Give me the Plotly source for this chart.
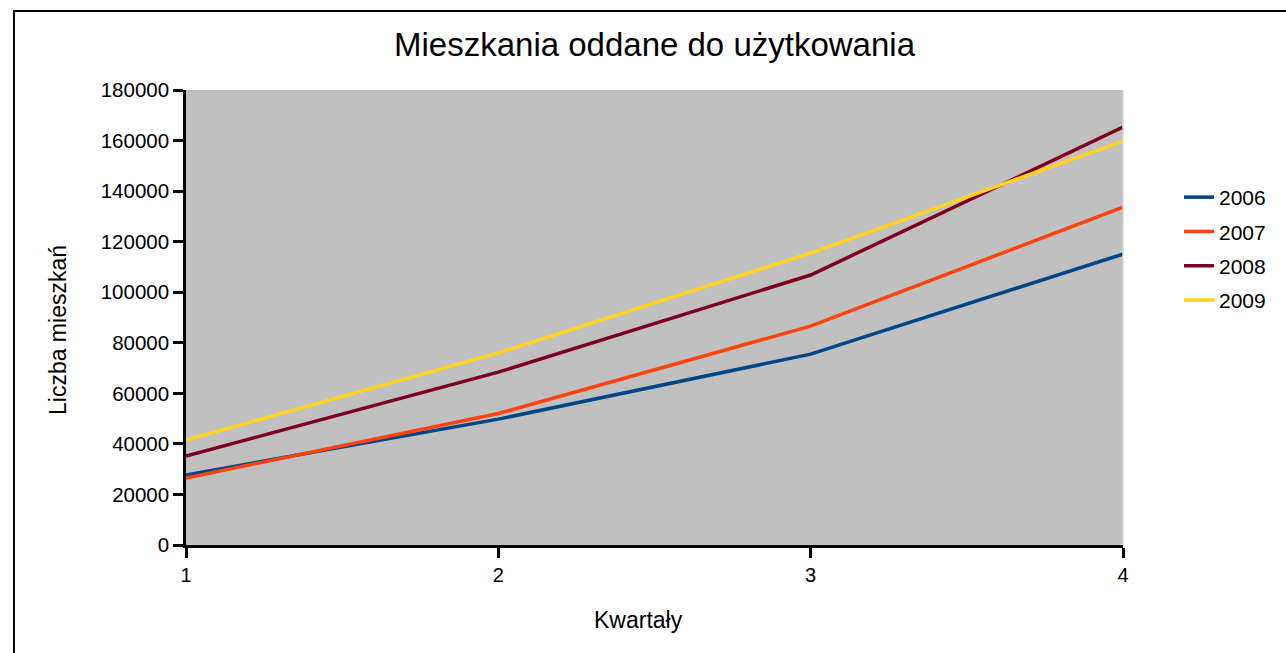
import plotly.graph_objects as go

quarters = [1, 2, 3, 4]
years = ["2006", "2007", "2008", "2009"]
v2006 = [27700, 49800, 75500, 115100]
v2007 = [26500, 52000, 86600, 133700]
v2008 = [35200, 68400, 106800, 165300]
v2009 = [41500, 76000, 115500, 159800]
colors = ["#004586", "#ff420e", "#7e0021", "#ffd320"]
y_ticks = [0, 20000, 40000, 60000, 80000, 100000, 120000, 140000, 160000, 180000]

fig = go.Figure()
for name, vals, col in zip(years, [v2006, v2007, v2008, v2009], colors):
    fig.add_trace(go.Scatter(x=quarters, y=vals, mode="lines", name=name,
                             legendgroup=name,
                             line=dict(color=col, width=3.5)))

W, H = 1286, 653
L, R, T, B = 186, 163, 90, 108
pw, ph = W - L - R, H - T - B


def px(x):
    return (x - L) / pw


def py(y):
    return (T + ph - y) / ph


fig.update_layout(
    width=W, height=H,
    margin=dict(l=L, r=R, t=T, b=B, pad=0),
    paper_bgcolor="white", plot_bgcolor="#c0c0c0",
    font=dict(family="Liberation Sans, Arial, sans-serif", color="black", size=20),
    title=dict(text="Mieszkania oddane do użytkowania", x=0.5, xref="paper",
               xanchor="center", y=(H - 44) / H, yanchor="middle",
               font=dict(size=33, color="black")),
    showlegend=True,
    legend=dict(x=px(1179), xanchor="left", y=py(177), yanchor="top",
                traceorder="grouped", tracegroupgap=4,
                font=dict(size=21), bgcolor="rgba(0,0,0,0)"),
    xaxis=dict(range=[1, 4], tickvals=quarters, ticktext=[str(q) for q in quarters],
               showgrid=False, zeroline=False, showline=True, linecolor="black", linewidth=2.5,
               ticks="outside", ticklen=10, tickwidth=2.5, tickcolor="black",
               tickfont=dict(size=20)),
    yaxis=dict(range=[0, 180000], tickvals=y_ticks, ticktext=[str(t) for t in y_ticks],
               showgrid=False, zeroline=False, showline=True, linecolor="black", linewidth=2.5,
               ticks="outside", ticklen=10, tickwidth=2.5, tickcolor="black",
               tickfont=dict(size=20.5)),
    annotations=[
        dict(text="Kwartały", xref="paper", yref="paper", x=px(638), y=py(620),
             xanchor="center", yanchor="middle", showarrow=False, font=dict(size=23)),
        dict(text="Liczba mieszkań", xref="paper", yref="paper", x=px(58), y=py(330),
             xanchor="center", yanchor="middle", showarrow=False, textangle=-90,
             font=dict(size=23)),
    ],
    shapes=[
        dict(type="rect", xref="paper", yref="paper",
             x0=px(14), x1=px(1300), y0=py(670), y1=py(11),
             line=dict(color="black", width=2), fillcolor="rgba(0,0,0,0)", layer="below"),
        dict(type="line", xref="paper", yref="paper", x0=1, x1=1, y0=0, y1=1,
             line=dict(color="#d8d8d8", width=1.5)),
    ],
)

fig.write_html("out.html", config={"displayModeBar": False},
               post_script="document.body.style.margin='0px';")
